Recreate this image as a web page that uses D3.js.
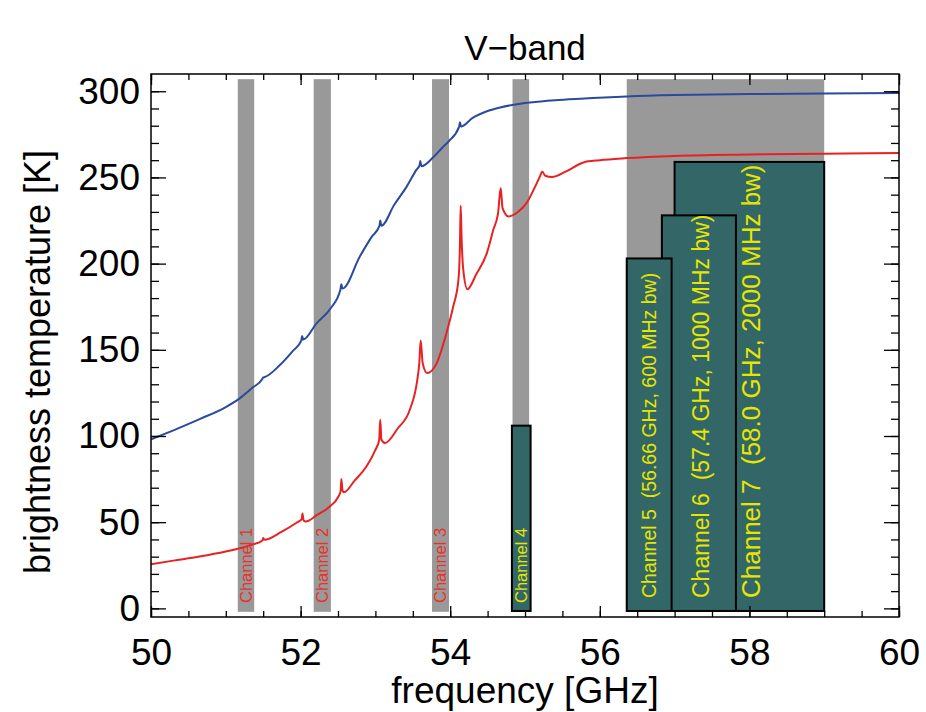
<!DOCTYPE html>
<html>
<head>
<meta charset="utf-8">
<script src="https://cdnjs.cloudflare.com/ajax/libs/d3/7.8.5/d3.min.js"></script>
<style>
body { margin: 0; background: #fff; }
svg text { font-family: "Liberation Sans", Arial, Helvetica, sans-serif; }
</style>
</head>
<body>
<div id="chart"></div>
<script>
// clear-sky brightness temperatures
const blueFreq = [50.00, 50.30, 50.65, 51.00, 51.19, 51.35, 51.49, 51.50, 51.52, 51.72, 51.90, 52.01, 52.02, 52.035,
    52.215, 52.40, 52.53, 52.545, 52.56, 52.79, 52.95, 53.055, 53.065, 53.08, 53.25, 53.42, 53.55, 53.59, 53.60, 53.615,
    53.77, 53.90, 53.98, 54.12, 54.13, 54.145, 54.30, 54.50, 54.67, 54.85, 55.07, 55.40, 55.74, 56.36, 57.00, 58.00, 59.00, 60.00];
const blueTb = [98.0, 103.3, 109.8, 116.8, 122.0, 127.8, 133.2, 134.0, 134.2, 141.0, 149.5, 155.5, 158.0, 156.0,
    165.5, 174.0, 184.5, 188.0, 185.5, 204.0, 215.5, 222.0, 225.0, 222.0, 234.0, 244.8, 254.5, 257.0, 259.5, 256.5,
    261.5, 267.5, 271.0, 279.5, 282.0, 279.5, 284.5, 288.5, 290.6, 292.2, 293.5, 294.8, 295.7, 297.0, 297.8, 298.4, 298.7, 299.0];

const redFreq = [50.00, 50.30, 50.65, 51.00, 51.19, 51.35, 51.49, 51.50, 51.515, 51.75, 51.95, 52.015, 52.025, 52.04, 52.07,
    52.22, 52.39, 52.50, 52.535, 52.545, 52.56, 52.58, 52.72, 52.88, 53.00, 53.05, 53.065, 53.08, 53.13, 53.30, 53.46,
    53.56, 53.587, 53.605, 53.632, 53.69, 53.82, 53.95, 54.04, 54.11, 54.13, 54.14, 54.153, 54.175, 54.23, 54.35, 54.49,
    54.576, 54.64, 54.675, 54.70, 54.78, 54.90, 55.02, 55.15, 55.20, 55.23, 55.27, 55.36, 55.55, 55.78, 56.00, 56.36,
    57.00, 58.00, 59.00, 60.00];
const redTb = [25.6, 27.7, 30.1, 33.0, 34.9, 37.0, 39.4, 40.8, 39.8, 44.5, 49.8, 51.8, 55.0, 51.0, 50.4,
    54.2, 59.1, 64.5, 68.0, 75.0, 68.5, 67.4, 74.0, 82.3, 92.0, 97.5, 109.4, 98.0, 95.9, 104.5, 115.2,
    132.6, 142.3, 155.4, 142.3, 136.5, 142.3, 159.7, 175.1, 190.6, 210.0, 233.6, 213.8, 196.4, 185.2, 194.0, 206.1,
    219.6, 229.3, 243.8, 232.2, 227.4, 229.8, 235.1, 246.0, 250.6, 253.5, 251.0, 250.2, 253.5, 258.7, 260.0, 261.2,
    262.5, 263.3, 263.8, 264.1];

// grey pass bands
const bandLo = [51.16, 52.175, 53.757, 54.833, 56.36];
const bandHi = [51.38, 52.405, 53.984, 55.055, 59.00];
const bandTop = 307, bandBottom = -2;

// channel boxes 4..7
const boxName = ["Channel 4", "Channel 5", "Channel 6", "Channel 7"];
const boxLo = [54.825, 56.36, 56.83, 57.00];
const boxHi = [55.075, 56.96, 57.82, 59.00];
const boxTop = [106, 203, 228, 259];
const boxBottom = -1.5;

const chanLabels = ["Channel 1", "Channel 2", "Channel 3", "Channel 4",
    "Channel 5\u00a0\u00a0(56.66 GHz, 600 MHz bw)", "Channel 6\u00a0\u00a0(57.4 GHz, 1000 MHz bw)", "Channel 7\u00a0\u00a0(58.0 GHz, 2000 MHz bw)"];
const chanCenter = [51.27, 52.29, 53.87, 54.95, 56.66, 57.35, 58.02];

const xTicks = [50, 52, 54, 56, 58, 60];
const yTicks = [0, 50, 100, 150, 200, 250, 300];

function drawChart() {
    const margin = {top: 74, right: 27, bottom: 95, left: 151},
        width = 926 - margin.left - margin.right,
        height = 712 - margin.top - margin.bottom;

    const svg = d3.select("#chart")
        .append("svg")
        .attr("width", width + margin.left + margin.right)
        .attr("height", height + margin.top + margin.bottom)
        .append("g")
        .attr("transform", `translate(${margin.left},${margin.top})`);

    const x = d3.scaleLinear().domain([50, 60]).range([0, width]);
    const y = d3.scaleLinear().domain([-5, 310]).range([height, 0]);

    svg.append("clipPath").attr("id", "clip")
        .append("rect").attr("width", width).attr("height", height);

    // grey bands
    svg.selectAll(".band")
        .data(bandLo.map((lo, i) => ({lo: lo, hi: bandHi[i]})))
        .enter().append("rect")
        .attr("class", "band")
        .attr("x", d => x(d.lo))
        .attr("width", d => x(d.hi) - x(d.lo))
        .attr("y", y(bandTop))
        .attr("height", y(bandBottom) - y(bandTop))
        .attr("fill", "#999999");

    // curves
    const line = (fs, ts) => d3.line()
        .x(i => x(fs[i]))
        .y(i => y(ts[i]))
        .curve(d3.curveMonotoneX)(d3.range(fs.length));

    svg.append("path")
        .attr("d", line(blueFreq, blueTb))
        .attr("clip-path", "url(#clip)")
        .attr("fill", "none")
        .attr("stroke", "#2b4a9e")
        .attr("stroke-width", 2);

    svg.append("path")
        .attr("d", line(redFreq, redTb))
        .attr("clip-path", "url(#clip)")
        .attr("fill", "none")
        .attr("stroke", "#e82222")
        .attr("stroke-width", 2);

    // channel boxes, drawn 7,6,5 then 4
    const boxes = boxName.map((n, i) => ({name: n, lo: boxLo[i], hi: boxHi[i], top: boxTop[i]}));
    svg.selectAll(".box")
        .data([boxes[3], boxes[2], boxes[1], boxes[0]])
        .enter().append("rect")
        .attr("class", "box")
        .attr("x", d => x(d.lo))
        .attr("width", d => x(d.hi) - x(d.lo))
        .attr("y", d => y(d.top))
        .attr("height", d => y(boxBottom) - y(d.top))
        .attr("fill", "#336666")
        .attr("stroke", "#000")
        .attr("stroke-width", 2);

    // channel labels
    const labelSize = [16.5, 16.5, 16.5, 16.5, 19.5, 23, 26];
    svg.selectAll(".chan")
        .data(chanLabels)
        .enter().append("text")
        .attr("class", "chan")
        .attr("transform", (d, i) => `translate(${x(chanCenter[i])},${i < 4 ? height - 14 : height - 19}) rotate(-90)`)
        .attr("dy", "0.36em")
        .style("font-size", (d, i) => labelSize[i] + "px")
        .attr("fill", (d, i) => i < 3 ? "#e8322a" : "#e6e600")
        .text(d => d);

    // axes: ticks point inward, IDL style
    const xMinor = d3.range(50, 60.01, 0.5);
    const yMinor = d3.range(0, 310, 10);

    svg.append("g").attr("class", "axis").attr("transform", `translate(0,${height})`)
        .call(d3.axisBottom(x).tickValues(xMinor).tickSize(-6).tickSizeOuter(0).tickFormat(""));
    svg.append("g").attr("class", "axis").attr("transform", `translate(0,${height})`)
        .call(d3.axisBottom(x).tickValues(xTicks).tickSize(-11).tickSizeOuter(0).tickPadding(22).tickFormat(d3.format("d")));

    svg.append("g").attr("class", "axis")
        .call(d3.axisTop(x).tickValues(xMinor).tickSize(-6).tickSizeOuter(0).tickFormat(""));
    svg.append("g").attr("class", "axis")
        .call(d3.axisTop(x).tickValues(xTicks).tickSize(-11).tickSizeOuter(0).tickFormat(""));

    svg.append("g").attr("class", "axis")
        .call(d3.axisLeft(y).tickValues(yMinor).tickSize(-8).tickSizeOuter(0).tickFormat(""));
    svg.append("g").attr("class", "axis")
        .call(d3.axisLeft(y).tickValues(yTicks).tickSize(-15).tickSizeOuter(0).tickPadding(11).tickFormat(d3.format("d")));

    svg.append("g").attr("class", "axis").attr("transform", `translate(${width},0)`)
        .call(d3.axisRight(y).tickValues(yMinor).tickSize(-8).tickSizeOuter(0).tickFormat(""));
    svg.append("g").attr("class", "axis").attr("transform", `translate(${width},0)`)
        .call(d3.axisRight(y).tickValues(yTicks).tickSize(-15).tickSizeOuter(0).tickFormat(""));

    svg.selectAll(".axis .domain").remove();
    svg.selectAll(".axis line").attr("stroke", "#000").attr("stroke-width", 1.3);
    svg.selectAll(".axis text")
        .style("font-size", "37px")
        .style("font-family", "'Liberation Sans', Arial, sans-serif")
        .attr("fill", "#000");

    // frame
    svg.append("rect")
        .attr("width", width)
        .attr("height", height)
        .attr("fill", "none")
        .attr("stroke", "#000")
        .attr("stroke-width", 1.5);

    // titles
    svg.append("text")
        .attr("x", width / 2)
        .attr("y", -14)
        .attr("text-anchor", "middle")
        .style("font-size", "35px")
        .text("V\u2212band");

    svg.append("text")
        .attr("x", width / 2)
        .attr("y", height + 86)
        .attr("text-anchor", "middle")
        .style("font-size", "37px")
        .text("frequency [GHz]");

    svg.append("text")
        .attr("transform", `translate(${-101},${288}) rotate(-90)`)
        .attr("text-anchor", "middle")
        .style("font-size", "36px")
        .text("brightness temperature [K]");
}

drawChart();
</script>
</body>
</html>
